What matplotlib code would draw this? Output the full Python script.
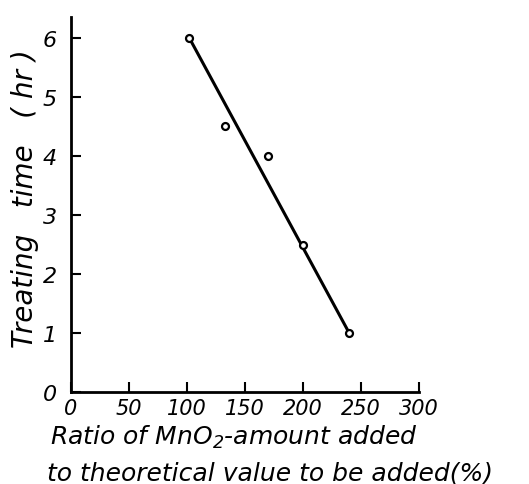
import matplotlib
matplotlib.use("Agg")
import matplotlib.pyplot as plt

# data
ratio_pct = [102, 133, 170, 200, 240]
treat_hr = [6.0, 4.5, 4.0, 2.5, 1.0]
fit_x = [102, 240]
fit_y = [6.0, 1.0]

x_ticks = [0, 50, 100, 150, 200, 250, 300]
y_ticks = [0, 1, 2, 3, 4, 5, 6]

plt.rcParams["font.family"] = "DejaVu Sans"
plt.rcParams["font.style"] = "italic"

fig = plt.figure(figsize=(5.29, 4.85), dpi=100)
ax = fig.add_axes([0.1336, 0.189, 0.6584, 0.773])

ax.plot(fit_x, fit_y, color="black", lw=2.2, zorder=2)
ax.plot(ratio_pct, treat_hr, linestyle="none", marker="o", markersize=5,
        markerfacecolor="white", markeredgecolor="black", markeredgewidth=1.6,
        zorder=3)

ax.set_xlim(0, 300)
ax.set_ylim(0, 6.34)
ax.set_xticks(x_ticks)
ax.set_yticks(y_ticks)
ax.set_xticklabels([str(v) for v in x_ticks], fontsize=15, style="italic")
ax.set_yticklabels([str(v) for v in y_ticks], fontsize=16, style="italic")
ax.tick_params(axis="x", direction="in", length=7, width=1.5, pad=4)
ax.tick_params(axis="y", direction="in", length=7, width=1.5, pad=10)

for side in ("top", "right"):
    ax.spines[side].set_visible(False)
for side in ("left", "bottom"):
    ax.spines[side].set_linewidth(2.0)

fig.text(0.047, 0.59, "Treating   time   ( hr )", rotation=90,
         fontsize=20, style="italic", ha="center", va="center")
fig.text(0.094, 0.098, "Ratio of MnO$_2$-amount added", fontsize=18,
         style="italic", ha="left", va="center")
fig.text(0.088, 0.024, "to theoretical value to be added(%)", fontsize=18,
         style="italic", ha="left", va="center")

fig.savefig("out.png", dpi=100, facecolor="white")
